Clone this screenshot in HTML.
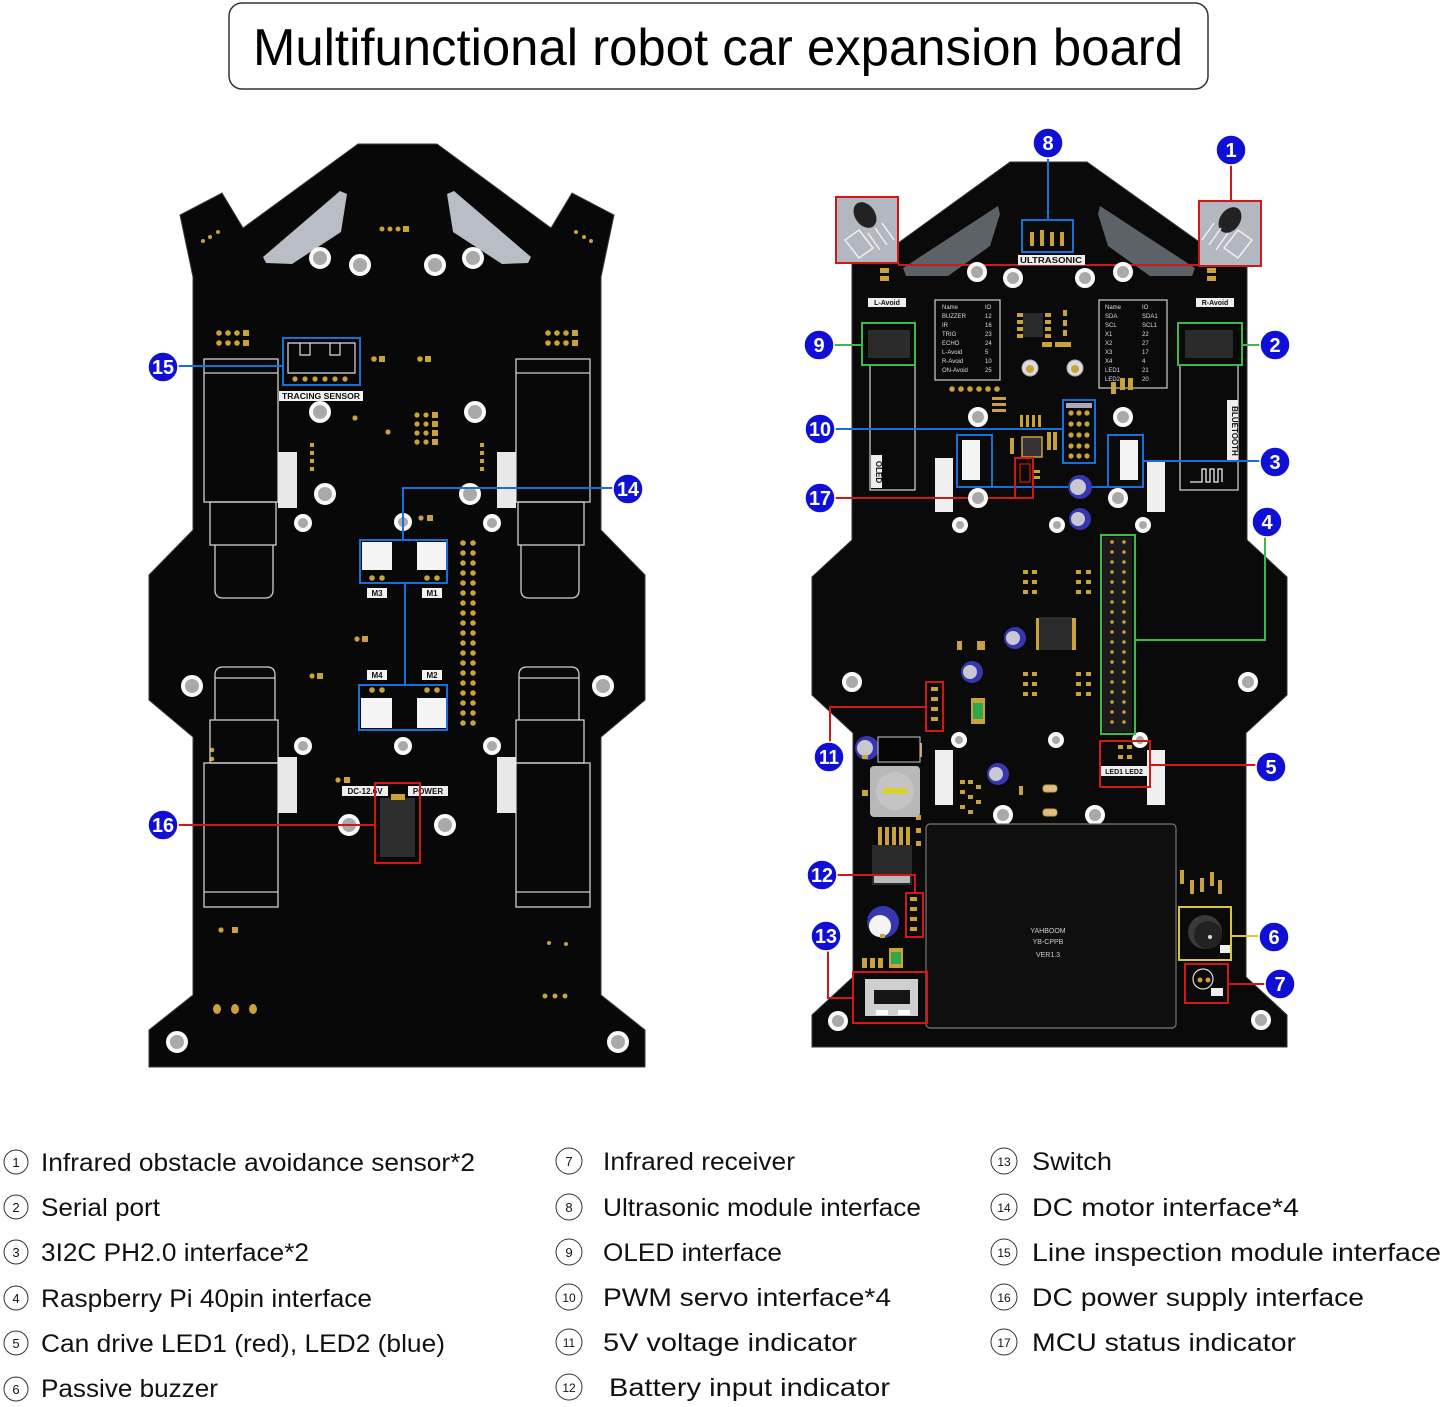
<!DOCTYPE html>
<html><head><meta charset="utf-8"><style>
html,body{margin:0;padding:0;background:#fff;}
svg{display:block;}
</style></head><body>
<svg width="1444" height="1407" viewBox="0 0 1444 1407" xmlns="http://www.w3.org/2000/svg" font-family="Liberation Sans, Arial, sans-serif">
<rect width="1444" height="1407" fill="#fff"/>
<!-- Title -->
<rect x="229" y="3" width="979" height="86" rx="13" fill="#fff" stroke="#333" stroke-width="1.5"/>
<text x="253" y="65" font-size="52" fill="#000" textLength="930" lengthAdjust="spacingAndGlyphs">Multifunctional robot car expansion board</text>

<!-- ================= LEFT BOARD ================= -->
<polygon fill="#080808" stroke="#3a3a3a" stroke-width="1" points="358,144 437,144 551,228 572,193 614,215 601,277 601,530 645,575 645,700 601,737 601,995 645,1030 645,1067 149,1067 149,1030 193,995 193,737 149,700 149,575 193,530 193,277 180,215 222,193 243,228"/>
<!-- slats -->
<polygon fill="#b9bdc6" points="263,257 340,191 347,194 341,232 292,264 266,263"/>
<polygon fill="#b9bdc6" points="531,257 454,191 447,194 453,232 502,264 528,263"/>
<!-- top pads -->
<g fill="#c9a23a">
<circle cx="382" cy="229" r="2.5"/><circle cx="390" cy="229" r="2.5"/><circle cx="398" cy="229" r="2.5"/><rect x="403" y="226" width="6" height="6"/>
<circle cx="203" cy="241" r="2"/><circle cx="210" cy="237" r="2"/><circle cx="218" cy="232" r="2"/>
<circle cx="576" cy="232" r="2"/><circle cx="584" cy="237" r="2"/><circle cx="591" cy="241" r="2"/>
<!-- pad groups -->
<circle cx="219" cy="333" r="2.8"/><circle cx="228" cy="333" r="2.8"/><circle cx="237" cy="333" r="2.8"/><rect x="243" y="330" width="6" height="6"/>
<circle cx="219" cy="343" r="2.8"/><circle cx="228" cy="343" r="2.8"/><circle cx="237" cy="343" r="2.8"/><rect x="243" y="340" width="6" height="6"/>
<circle cx="548" cy="333" r="2.8"/><circle cx="557" cy="333" r="2.8"/><circle cx="566" cy="333" r="2.8"/><rect x="572" y="330" width="6" height="6"/>
<circle cx="548" cy="343" r="2.8"/><circle cx="557" cy="343" r="2.8"/><circle cx="566" cy="343" r="2.8"/><rect x="572" y="340" width="6" height="6"/>
<circle cx="374" cy="359" r="2.8"/><rect x="379" y="356" width="6" height="6"/>
<circle cx="420" cy="359" r="2.8"/><rect x="425" y="356" width="6" height="6"/>
<circle cx="355" cy="418" r="2.6"/><circle cx="388" cy="432" r="2.6"/>
<circle cx="417" cy="415" r="2.6"/><circle cx="426" cy="415" r="2.6"/><rect x="432" y="412" width="6" height="6"/>
<circle cx="417" cy="424" r="2.6"/><circle cx="426" cy="424" r="2.6"/><rect x="432" y="421" width="6" height="6"/>
<circle cx="417" cy="433" r="2.6"/><circle cx="426" cy="433" r="2.6"/><rect x="432" y="430" width="6" height="6"/>
<circle cx="417" cy="442" r="2.6"/><circle cx="426" cy="442" r="2.6"/><rect x="432" y="439" width="6" height="6"/>
<rect x="310" y="443" width="4" height="4"/><rect x="310" y="451" width="4" height="4"/><rect x="310" y="459" width="4" height="4"/><rect x="310" y="467" width="4" height="4"/>
<rect x="480" y="443" width="4" height="4"/><rect x="480" y="451" width="4" height="4"/><rect x="480" y="459" width="4" height="4"/><rect x="480" y="467" width="4" height="4"/>
<circle cx="421" cy="518" r="2.6"/><rect x="427" y="515" width="6" height="6"/>
<circle cx="357" cy="639" r="2.6"/><rect x="362" y="636" width="6" height="6"/>
<circle cx="312" cy="676" r="2.6"/><rect x="317" y="673" width="6" height="6"/>
<circle cx="212" cy="750" r="2.3"/><circle cx="212" cy="759" r="2.3"/>
<circle cx="338" cy="780" r="2.6"/><rect x="344" y="777" width="6" height="6"/>
<circle cx="221" cy="930" r="2.6"/><rect x="232" y="927" width="6" height="6"/>
<circle cx="549" cy="943" r="2"/><circle cx="566" cy="944" r="2"/>
<circle cx="545" cy="996" r="2.5"/><circle cx="555" cy="996" r="2.5"/><circle cx="565" cy="996" r="2.5"/>
<ellipse cx="217" cy="1009" rx="4" ry="5"/><ellipse cx="235" cy="1009" rx="4" ry="5"/><ellipse cx="253" cy="1009" rx="4" ry="5"/>
</g>
<!-- header pins left board -->
<g fill="#c9a23a">
<circle cx="463" cy="543" r="2.8"/><circle cx="473" cy="543" r="2.8"/><circle cx="463" cy="553" r="2.8"/><circle cx="473" cy="553" r="2.8"/><circle cx="463" cy="563" r="2.8"/><circle cx="473" cy="563" r="2.8"/><circle cx="463" cy="573" r="2.8"/><circle cx="473" cy="573" r="2.8"/><circle cx="463" cy="583" r="2.8"/><circle cx="473" cy="583" r="2.8"/><circle cx="463" cy="593" r="2.8"/><circle cx="473" cy="593" r="2.8"/><circle cx="463" cy="603" r="2.8"/><circle cx="473" cy="603" r="2.8"/><circle cx="463" cy="613" r="2.8"/><circle cx="473" cy="613" r="2.8"/><circle cx="463" cy="623" r="2.8"/><circle cx="473" cy="623" r="2.8"/><circle cx="463" cy="633" r="2.8"/><circle cx="473" cy="633" r="2.8"/><circle cx="463" cy="643" r="2.8"/><circle cx="473" cy="643" r="2.8"/><circle cx="463" cy="653" r="2.8"/><circle cx="473" cy="653" r="2.8"/><circle cx="463" cy="663" r="2.8"/><circle cx="473" cy="663" r="2.8"/><circle cx="463" cy="673" r="2.8"/><circle cx="473" cy="673" r="2.8"/><circle cx="463" cy="683" r="2.8"/><circle cx="473" cy="683" r="2.8"/><circle cx="463" cy="693" r="2.8"/><circle cx="473" cy="693" r="2.8"/><circle cx="463" cy="703" r="2.8"/><circle cx="473" cy="703" r="2.8"/><circle cx="463" cy="713" r="2.8"/><circle cx="473" cy="713" r="2.8"/><circle cx="463" cy="723" r="2.8"/><circle cx="473" cy="723" r="2.8"/>
</g>
<!-- motors outlines -->
<g fill="none" stroke="#cfcfcf" stroke-width="1.3">
<rect x="204" y="359" width="74" height="143"/><line x1="204" y1="373" x2="278" y2="373"/>
<rect x="210" y="502" width="66" height="43"/>
<path d="M215,545 V590 Q215,598 223,598 H265 Q273,598 273,590 V545"/>
<rect x="516" y="359" width="74" height="143"/><line x1="516" y1="373" x2="590" y2="373"/>
<rect x="518" y="502" width="66" height="43"/>
<path d="M521,545 V590 Q521,598 529,598 H571 Q579,598 579,590 V545"/>
<path d="M215,720 V675 Q215,667 223,667 H267 Q275,667 275,675 V720"/><line x1="215" y1="678" x2="275" y2="678"/>
<rect x="210" y="720" width="68" height="43"/>
<rect x="204" y="763" width="74" height="144"/><line x1="204" y1="892" x2="278" y2="892"/>
<path d="M519,720 V675 Q519,667 527,667 H571 Q579,667 579,675 V720"/><line x1="519" y1="678" x2="579" y2="678"/>
<rect x="516" y="720" width="68" height="43"/>
<rect x="516" y="763" width="74" height="144"/><line x1="516" y1="892" x2="590" y2="892"/>
</g>
<g fill="#e8e8e8">
<rect x="278" y="452" width="19" height="56"/><rect x="497" y="452" width="19" height="56"/>
<rect x="278" y="757" width="19" height="56"/><rect x="497" y="757" width="19" height="56"/>
</g>
<!-- holes left -->
<g fill="#a9a9a9" stroke="#fafafa" stroke-width="4">
<circle cx="320" cy="258" r="9"/><circle cx="360" cy="265" r="9"/><circle cx="435" cy="265" r="9"/><circle cx="473" cy="258" r="9"/>
<circle cx="320" cy="412" r="9"/><circle cx="475" cy="412" r="9"/>
<circle cx="325" cy="494" r="9"/><circle cx="470" cy="494" r="9"/>
<circle cx="303" cy="523" r="7"/><circle cx="403" cy="522" r="7"/><circle cx="492" cy="523" r="7"/>
<circle cx="192" cy="686" r="9"/><circle cx="603" cy="686" r="9"/>
<circle cx="303" cy="746" r="7"/><circle cx="403" cy="746" r="7"/><circle cx="492" cy="746" r="7"/>
<circle cx="349" cy="825" r="9"/><circle cx="445" cy="825" r="9"/>
<circle cx="177" cy="1042" r="9"/><circle cx="618" cy="1042" r="9"/>
</g>
<!-- tracing sensor -->
<path d="M288,343 H355 V373 H288 Z M300,343 V355 H310 V343 M330,343 V355 H340 V343" fill="none" stroke="#ddd" stroke-width="1.2"/>
<g fill="#c9a23a"><circle cx="295" cy="379" r="2.6"/><circle cx="305" cy="379" r="2.6"/><circle cx="315" cy="379" r="2.6"/><circle cx="325" cy="379" r="2.6"/><circle cx="335" cy="379" r="2.6"/><circle cx="345" cy="379" r="2.6"/></g>
<rect x="283" y="338" width="77" height="47" fill="none" stroke="#1a6fd6" stroke-width="2"/>
<rect x="279" y="391" width="84" height="10" fill="#f2f2f2"/>
<text x="321" y="399" font-size="8" font-weight="bold" fill="#111" text-anchor="middle" textLength="78" lengthAdjust="spacingAndGlyphs">TRACING SENSOR</text>
<line x1="178" y1="366" x2="283" y2="366" stroke="#1a6fd6" stroke-width="2"/>
<!-- motor connectors -->
<g fill="#f4f4f4"><rect x="362" y="542" width="30" height="28"/><rect x="417" y="542" width="29" height="28"/><rect x="361" y="698" width="31" height="30"/><rect x="417" y="698" width="30" height="30"/></g>
<g fill="#c9a23a"><circle cx="372" cy="578" r="2.8"/><circle cx="382" cy="578" r="2.8"/><circle cx="427" cy="578" r="2.8"/><circle cx="437" cy="578" r="2.8"/><circle cx="372" cy="690" r="2.8"/><circle cx="382" cy="690" r="2.8"/><circle cx="427" cy="690" r="2.8"/><circle cx="437" cy="690" r="2.8"/></g>
<g fill="#f2f2f2"><rect x="367" y="588" width="20" height="10"/><rect x="422" y="588" width="20" height="10"/><rect x="367" y="670" width="20" height="10"/><rect x="422" y="670" width="20" height="10"/></g>
<g font-size="8" font-weight="bold" fill="#111" text-anchor="middle"><text x="377" y="596">M3</text><text x="432" y="596">M1</text><text x="377" y="678">M4</text><text x="432" y="678">M2</text></g>
<g fill="none" stroke="#1a6fd6" stroke-width="2">
<rect x="360" y="540" width="87" height="43"/><rect x="359" y="685" width="88" height="45"/>
<polyline points="613,488 403,488 403,540"/><line x1="405" y1="583" x2="405" y2="685"/>
</g>
<!-- power -->
<rect x="342" y="786" width="46" height="10" fill="#eee"/><rect x="408" y="786" width="40" height="10" fill="#eee"/>
<text x="365" y="794" font-size="8" font-weight="bold" fill="#111" text-anchor="middle">DC-12.6V</text>
<text x="428" y="794" font-size="8" font-weight="bold" fill="#111" text-anchor="middle">POWER</text>
<rect x="380" y="798" width="35" height="59" fill="#2e2e2e"/>
<rect x="391" y="794" width="14" height="6" fill="#c9a23a"/>
<rect x="375" y="783" width="45" height="80" fill="none" stroke="#d01818" stroke-width="2"/>
<line x1="178" y1="825" x2="375" y2="825" stroke="#d01818" stroke-width="2"/>

<!-- ================= RIGHT BOARD ================= -->
<polygon fill="#0a0a0a" stroke="#333" stroke-width="1" points="1010,162 1087,162 1205,246 1247,262 1247,540 1287,577 1287,695 1246,733 1246,977 1287,1015 1287,1047 812,1047 812,1015 853,977 853,733 812,695 812,577 852,540 852,262 894,246"/>
<!-- slats -->
<polygon fill="#5d6168" points="903,268 998,206 1000,214 990,246 948,276 906,276"/>
<polygon fill="#5d6168" points="1195,268 1100,206 1098,214 1108,246 1150,276 1192,276"/>
<!-- IR sensors -->
<rect x="836" y="197" width="62" height="66" fill="#b3b7bf"/>
<rect x="1199" y="201" width="62" height="65" fill="#b3b7bf"/>
<g fill="#222"><ellipse cx="865" cy="215" rx="10" ry="14" transform="rotate(-35 865 215)"/><ellipse cx="1230" cy="220" rx="10" ry="14" transform="rotate(35 1230 220)"/></g>
<g fill="none" stroke="#f0f0f0" stroke-width="1.5">
<path d="M845,240 l14,-10 l14,18 l-14,10 z"/><line x1="868" y1="233" x2="880" y2="250"/><line x1="875" y1="228" x2="887" y2="245"/><line x1="882" y1="223" x2="894" y2="240"/>
<path d="M1252,240 l-14,-10 l-14,18 l14,10 z"/><line x1="1228" y1="233" x2="1216" y2="250"/><line x1="1221" y1="228" x2="1209" y2="245"/><line x1="1214" y1="223" x2="1202" y2="240"/>
</g>
<rect x="836" y="197" width="62" height="66" fill="none" stroke="#d01818" stroke-width="2"/>
<rect x="1199" y="201" width="62" height="65" fill="none" stroke="#d01818" stroke-width="2"/>
<line x1="898" y1="265" x2="1199" y2="265" stroke="#d01818" stroke-width="2"/>
<line x1="1231" y1="165" x2="1231" y2="201" stroke="#d01818" stroke-width="2"/>
<g fill="#c9a23a"><rect x="880" y="268" width="9" height="5"/><rect x="880" y="276" width="9" height="5"/><rect x="1207" y="268" width="9" height="5"/><rect x="1207" y="276" width="9" height="5"/></g>
<rect x="868" y="298" width="38" height="9" fill="#eee"/><rect x="1196" y="298" width="38" height="9" fill="#eee"/>
<text x="887" y="305" font-size="7" font-weight="bold" fill="#111" text-anchor="middle">L-Avoid</text>
<text x="1215" y="305" font-size="7" font-weight="bold" fill="#111" text-anchor="middle">R-Avoid</text>
<!-- ultrasonic -->
<g fill="#c9a23a"><rect x="1030" y="232" width="4" height="14"/><rect x="1040" y="230" width="4" height="16"/><rect x="1050" y="232" width="4" height="14"/><rect x="1060" y="232" width="4" height="14"/></g>
<rect x="1022" y="220" width="51" height="32" fill="none" stroke="#1a6fd6" stroke-width="2"/>
<rect x="1018" y="255" width="67" height="10" fill="#eee"/>
<text x="1051" y="263" font-size="8" font-weight="bold" fill="#111" text-anchor="middle" textLength="62" lengthAdjust="spacingAndGlyphs">ULTRASONIC</text>
<line x1="1048" y1="158" x2="1048" y2="220" stroke="#1a6fd6" stroke-width="2"/>
<!-- tables -->
<g fill="none" stroke="#cfcfcf" stroke-width="1.2"><rect x="935" y="300" width="65" height="80"/><rect x="1099" y="300" width="68" height="88"/></g>
<g font-size="6" fill="#ddd">
<text x="942" y="309">Name</text><text x="985" y="309">IO</text>
<text x="942" y="318">BUZZER</text><text x="985" y="318">12</text>
<text x="942" y="327">IR</text><text x="985" y="327">16</text>
<text x="942" y="336">TRIG</text><text x="985" y="336">23</text>
<text x="942" y="345">ECHO</text><text x="985" y="345">24</text>
<text x="942" y="354">L-Avoid</text><text x="985" y="354">5</text>
<text x="942" y="363">R-Avoid</text><text x="985" y="363">10</text>
<text x="942" y="372">ON-Avoid</text><text x="985" y="372">25</text>
<text x="1105" y="309">Name</text><text x="1142" y="309">IO</text>
<text x="1105" y="318">SDA</text><text x="1142" y="318">SDA1</text>
<text x="1105" y="327">SCL</text><text x="1142" y="327">SCL1</text>
<text x="1105" y="336">X1</text><text x="1142" y="336">22</text>
<text x="1105" y="345">X2</text><text x="1142" y="345">27</text>
<text x="1105" y="354">X3</text><text x="1142" y="354">17</text>
<text x="1105" y="363">X4</text><text x="1142" y="363">4</text>
<text x="1105" y="372">LED1</text><text x="1142" y="372">21</text>
<text x="1105" y="381">LED2</text><text x="1142" y="381">20</text>
</g>
<!-- center smd -->
<g fill="#c9a23a">
<rect x="1017" y="313" width="6" height="4"/><rect x="1017" y="320" width="6" height="4"/><rect x="1017" y="327" width="6" height="4"/><rect x="1017" y="334" width="6" height="4"/>
<rect x="1045" y="313" width="6" height="4"/><rect x="1045" y="320" width="6" height="4"/><rect x="1045" y="327" width="6" height="4"/><rect x="1045" y="334" width="6" height="4"/>
<rect x="1063" y="310" width="4" height="6"/><rect x="1063" y="320" width="4" height="6"/><rect x="1063" y="330" width="4" height="6"/>
<rect x="1055" y="342" width="16" height="5"/><rect x="1042" y="342" width="10" height="5"/>
<circle cx="952" cy="389" r="2.8"/><circle cx="961" cy="389" r="2.8"/><circle cx="970" cy="389" r="2.8"/><circle cx="979" cy="389" r="2.8"/><circle cx="988" cy="389" r="2.8"/><circle cx="997" cy="389" r="2.8"/>
<rect x="992" y="397" width="14" height="3"/><rect x="992" y="403" width="14" height="3"/><rect x="992" y="409" width="14" height="3"/>
<rect x="1020" y="415" width="3" height="12"/><rect x="1026" y="415" width="3" height="12"/><rect x="1032" y="415" width="3" height="12"/><rect x="1038" y="415" width="3" height="12"/>
<rect x="1111" y="382" width="5" height="12"/><rect x="1120" y="378" width="5" height="12"/><rect x="1128" y="378" width="5" height="12"/>
</g>
<rect x="1023" y="313" width="20" height="24" fill="#2a2a2a"/>
<g fill="#ddd" stroke="#aaa" stroke-width="1"><circle cx="1030" cy="368" r="8"/><circle cx="1075" cy="368" r="8"/></g>
<g fill="#c9a23a"><circle cx="1030" cy="369" r="4"/><circle cx="1075" cy="369" r="4"/></g>
<!-- OLED / Bluetooth -->
<rect x="868" y="330" width="42" height="28" fill="#2b2b2b"/>
<rect x="1185" y="330" width="48" height="28" fill="#2b2b2b"/>
<g fill="none" stroke="#d8d8d8" stroke-width="1.2"><rect x="870" y="365" width="45" height="125"/><rect x="1180" y="365" width="58" height="125"/></g>
<rect x="871" y="455" width="11" height="33" fill="#eee"/>
<text x="876" y="472" font-size="8" font-weight="bold" fill="#111" text-anchor="middle" transform="rotate(90 876 472)">OLED</text>
<rect x="1227" y="400" width="11" height="62" fill="#eee"/>
<text x="1232" y="431" font-size="8" font-weight="bold" fill="#111" text-anchor="middle" transform="rotate(90 1232 431)">BLUETOOTH</text>
<path d="M1190,482 H1202 V469 H1206 V482 H1210 V469 H1214 V482 H1218 V469 H1222 V482" fill="none" stroke="#eee" stroke-width="1.3"/>
<g fill="none" stroke="#3db84a" stroke-width="2"><rect x="862" y="323" width="53" height="42"/><rect x="1178" y="323" width="64" height="42"/><line x1="834" y1="345" x2="862" y2="345"/><line x1="1242" y1="345" x2="1260" y2="345"/></g>
<!-- white strips -->
<g fill="#efefef"><rect x="935" y="458" width="18" height="54"/><rect x="1147" y="460" width="18" height="52"/><rect x="935" y="750" width="18" height="55"/><rect x="1147" y="750" width="18" height="55"/></g>
<!-- servo header -->
<g fill="#c9a23a">
<circle cx="1071" cy="413" r="2.6"/><circle cx="1079" cy="413" r="2.6"/><circle cx="1087" cy="413" r="2.6"/>
<circle cx="1071" cy="424" r="2.6"/><circle cx="1079" cy="424" r="2.6"/><circle cx="1087" cy="424" r="2.6"/>
<circle cx="1071" cy="435" r="2.6"/><circle cx="1079" cy="435" r="2.6"/><circle cx="1087" cy="435" r="2.6"/>
<circle cx="1071" cy="446" r="2.6"/><circle cx="1079" cy="446" r="2.6"/><circle cx="1087" cy="446" r="2.6"/>
<circle cx="1071" cy="456" r="2.6"/><circle cx="1079" cy="456" r="2.6"/><circle cx="1087" cy="456" r="2.6"/>
</g>
<rect x="1066" y="403" width="26" height="5" fill="#aab"/>
<rect x="1063" y="400" width="32" height="63" fill="none" stroke="#1a6fd6" stroke-width="2"/>
<line x1="835" y1="429" x2="1063" y2="429" stroke="#1a6fd6" stroke-width="2"/>
<!-- I2C connectors -->
<rect x="962" y="440" width="18" height="40" fill="#f4f4f4"/><rect x="1120" y="440" width="18" height="40" fill="#f4f4f4"/>
<g fill="none" stroke="#1a6fd6" stroke-width="2"><rect x="957" y="435" width="35" height="52"/><rect x="1108" y="435" width="35" height="52"/><line x1="992" y1="487" x2="1108" y2="487"/><line x1="1143" y1="461" x2="1260" y2="461"/></g>
<!-- MCU -->
<rect x="1022" y="437" width="20" height="20" fill="#333" stroke="#c9a23a" stroke-width="1.5"/>
<g fill="#c9a23a"><rect x="1010" y="438" width="4" height="16"/><rect x="1047" y="432" width="4" height="18"/><rect x="1053" y="432" width="4" height="18"/><rect x="1034" y="470" width="6" height="3"/><rect x="1034" y="476" width="6" height="3"/></g>
<g fill="none" stroke="#d01818" stroke-width="2"><rect x="1015" y="458" width="18" height="40"/><polyline points="835,498 1033,498"/><rect x="1020" y="464" width="10" height="18" stroke-width="1.2"/></g>
<!-- capacitors -->
<g fill="#3636b0"><circle cx="1080" cy="487" r="12"/><circle cx="1080" cy="519" r="11"/><circle cx="1015" cy="638" r="11"/><circle cx="972" cy="672" r="11"/><circle cx="998" cy="774" r="11"/><circle cx="867" cy="748" r="12"/><circle cx="883" cy="922" r="16"/></g>
<g fill="#c8c8d0"><circle cx="1078" cy="487" r="8"/><circle cx="1078" cy="519" r="7"/><circle cx="1013" cy="638" r="7"/><circle cx="970" cy="672" r="7"/><circle cx="996" cy="774" r="7"/><circle cx="865" cy="748" r="8"/><circle cx="880" cy="926" r="11" fill="#f4f4f4"/></g>
<!-- holes right -->
<g fill="#a9a9a9" stroke="#fafafa" stroke-width="4">
<circle cx="977" cy="272" r="8"/><circle cx="1013" cy="278" r="8"/><circle cx="1085" cy="278" r="8"/><circle cx="1123" cy="272" r="8"/>
<circle cx="978" cy="417" r="8"/><circle cx="1123" cy="417" r="8"/>
<circle cx="978" cy="498" r="8"/><circle cx="1118" cy="498" r="8"/>
<circle cx="960" cy="525" r="6"/><circle cx="1057" cy="525" r="6"/><circle cx="1143" cy="525" r="6"/>
<circle cx="852" cy="682" r="8"/><circle cx="1248" cy="682" r="8"/>
<circle cx="959" cy="740" r="6"/><circle cx="1056" cy="740" r="6"/><circle cx="1140" cy="740" r="6"/>
<circle cx="1003" cy="815" r="8"/><circle cx="1095" cy="815" r="8"/>
<circle cx="838" cy="1021" r="8"/><circle cx="1261" cy="1020" r="8"/>
</g>
<!-- Pi header -->
<rect x="1103" y="537" width="29" height="195" fill="#1c1c1c"/>
<g fill="#c9a23a">
<circle cx="1112" cy="542" r="1.8"/><circle cx="1124" cy="542" r="1.8"/><circle cx="1112" cy="552" r="1.8"/><circle cx="1124" cy="552" r="1.8"/><circle cx="1112" cy="562" r="1.8"/><circle cx="1124" cy="562" r="1.8"/><circle cx="1112" cy="572" r="1.8"/><circle cx="1124" cy="572" r="1.8"/><circle cx="1112" cy="582" r="1.8"/><circle cx="1124" cy="582" r="1.8"/><circle cx="1112" cy="592" r="1.8"/><circle cx="1124" cy="592" r="1.8"/><circle cx="1112" cy="602" r="1.8"/><circle cx="1124" cy="602" r="1.8"/><circle cx="1112" cy="612" r="1.8"/><circle cx="1124" cy="612" r="1.8"/><circle cx="1112" cy="622" r="1.8"/><circle cx="1124" cy="622" r="1.8"/><circle cx="1112" cy="632" r="1.8"/><circle cx="1124" cy="632" r="1.8"/><circle cx="1112" cy="642" r="1.8"/><circle cx="1124" cy="642" r="1.8"/><circle cx="1112" cy="652" r="1.8"/><circle cx="1124" cy="652" r="1.8"/><circle cx="1112" cy="662" r="1.8"/><circle cx="1124" cy="662" r="1.8"/><circle cx="1112" cy="672" r="1.8"/><circle cx="1124" cy="672" r="1.8"/><circle cx="1112" cy="682" r="1.8"/><circle cx="1124" cy="682" r="1.8"/><circle cx="1112" cy="692" r="1.8"/><circle cx="1124" cy="692" r="1.8"/><circle cx="1112" cy="702" r="1.8"/><circle cx="1124" cy="702" r="1.8"/><circle cx="1112" cy="712" r="1.8"/><circle cx="1124" cy="712" r="1.8"/><circle cx="1112" cy="722" r="1.8"/><circle cx="1124" cy="722" r="1.8"/>
</g>
<g fill="none" stroke="#3db84a" stroke-width="2"><rect x="1101" y="535" width="34" height="199"/><polyline points="1135,640 1265,640 1265,537"/></g>
<!-- misc smd right board -->
<g fill="#c9a23a">
<rect x="1023" y="570" width="5" height="4"/><rect x="1032" y="570" width="5" height="4"/><rect x="1023" y="580" width="5" height="4"/><rect x="1032" y="580" width="5" height="4"/><rect x="1023" y="590" width="5" height="4"/><rect x="1032" y="590" width="5" height="4"/>
<rect x="1076" y="570" width="5" height="4"/><rect x="1086" y="570" width="5" height="4"/><rect x="1076" y="580" width="5" height="4"/><rect x="1086" y="580" width="5" height="4"/><rect x="1076" y="590" width="5" height="4"/><rect x="1086" y="590" width="5" height="4"/>
<rect x="1023" y="672" width="5" height="4"/><rect x="1032" y="672" width="5" height="4"/><rect x="1023" y="682" width="5" height="4"/><rect x="1032" y="682" width="5" height="4"/><rect x="1023" y="692" width="5" height="4"/><rect x="1032" y="692" width="5" height="4"/>
<rect x="1076" y="672" width="5" height="4"/><rect x="1086" y="672" width="5" height="4"/><rect x="1076" y="682" width="5" height="4"/><rect x="1086" y="682" width="5" height="4"/><rect x="1076" y="692" width="5" height="4"/><rect x="1086" y="692" width="5" height="4"/>
<rect x="957" y="641" width="5" height="9"/><rect x="977" y="641" width="8" height="9"/>
<rect x="1036" y="618" width="4" height="32"/><rect x="1072" y="618" width="4" height="32"/>
<rect x="960" y="780" width="5" height="4"/><rect x="968" y="780" width="5" height="4"/><rect x="976" y="785" width="5" height="4"/><rect x="960" y="790" width="5" height="4"/><rect x="968" y="795" width="5" height="4"/><rect x="976" y="800" width="5" height="4"/><rect x="960" y="805" width="5" height="4"/><rect x="968" y="810" width="5" height="4"/>
<rect x="1019" y="786" width="4" height="9"/>
<rect x="878" y="827" width="4" height="18"/><rect x="885" y="827" width="4" height="18"/><rect x="892" y="827" width="4" height="18"/><rect x="899" y="827" width="4" height="18"/><rect x="906" y="827" width="4" height="18"/>
<rect x="916" y="815" width="5" height="5"/><rect x="916" y="828" width="5" height="5"/><rect x="916" y="841" width="5" height="5"/>
<rect x="862" y="755" width="6" height="4"/><rect x="862" y="790" width="6" height="6"/><rect x="918" y="743" width="4" height="14"/>
<rect x="880" y="934" width="5" height="4"/><rect x="862" y="958" width="5" height="10"/><rect x="870" y="958" width="5" height="10"/><rect x="878" y="958" width="5" height="10"/>
<rect x="1180" y="870" width="4" height="14"/><rect x="1190" y="880" width="4" height="14"/><rect x="1200" y="878" width="4" height="14"/><rect x="1210" y="872" width="4" height="14"/><rect x="1218" y="880" width="4" height="14"/>
</g>
<rect x="1039" y="617" width="33" height="33" fill="#2c2c2c"/>
<g fill="#d9c08a" stroke="#c9a23a"><rect x="1043" y="785" width="14" height="7" rx="3"/><rect x="1043" y="809" width="14" height="7" rx="3"/></g>
<rect x="971" y="698" width="14" height="26" fill="#c9a23a"/><rect x="973" y="703" width="10" height="16" fill="#2ea84a"/>
<rect x="889" y="948" width="14" height="20" fill="#c9a23a"/><rect x="891" y="952" width="10" height="12" fill="#2ea84a"/>
<!-- inductor & box -->
<rect x="878" y="737" width="42" height="25" fill="#050505" stroke="#ccc" stroke-width="1"/>
<rect x="870" y="766" width="50" height="51" rx="4" fill="#b8b8b8"/>
<circle cx="895" cy="791" r="19" fill="#c4c4c4"/>
<rect x="883" y="788" width="24" height="6" fill="#d8d030"/>
<rect x="872" y="845" width="40" height="40" fill="#2a2a2a"/>
<rect x="874" y="876" width="36" height="7" fill="#bbb"/>
<!-- battery holder -->
<rect x="926" y="824" width="250" height="204" rx="4" fill="#0f0f0f" stroke="#777" stroke-width="1.2"/>
<g font-size="7" fill="#cfcfcf" text-anchor="middle"><text x="1048" y="933">YAHBOOM</text><text x="1048" y="944">YB-CPPB</text><text x="1048" y="957">VER1.3</text></g>
<!-- buzzer -->
<circle cx="1205" cy="932" r="17" fill="#3a3a3a"/><circle cx="1208" cy="935" r="14" fill="#222"/><circle cx="1210" cy="937" r="2" fill="#ddd"/>
<rect x="1220" y="945" width="12" height="8" fill="#eee"/>
<rect x="1179" y="907" width="52" height="53" fill="none" stroke="#d8c53c" stroke-width="2"/>
<line x1="1231" y1="936" x2="1259" y2="936" stroke="#d8c53c" stroke-width="2"/>
<!-- IR receiver -->
<circle cx="1203" cy="979" r="10" fill="none" stroke="#ddd" stroke-width="1.2"/>
<circle cx="1200" cy="980" r="2.5" fill="#c9a23a"/><circle cx="1208" cy="980" r="2.5" fill="#c9a23a"/>
<rect x="1211" y="988" width="12" height="8" fill="#eee"/>
<rect x="1185" y="964" width="43" height="39" fill="none" stroke="#d01818" stroke-width="2"/>
<line x1="1228" y1="984" x2="1265" y2="984" stroke="#d01818" stroke-width="2"/>
<!-- switch -->
<rect x="865" y="979" width="53" height="37" fill="#cfcfcf"/>
<rect x="874" y="990" width="36" height="14" fill="#151515"/>
<rect x="876" y="1010" width="12" height="5" fill="#fff"/><rect x="898" y="1010" width="12" height="5" fill="#fff"/>
<!-- red boxes / lines for 5,11,12,13 -->
<g fill="#c9a23a"><rect x="931" y="687" width="7" height="4"/><rect x="931" y="697" width="7" height="4"/><rect x="931" y="707" width="7" height="4"/><rect x="931" y="717" width="7" height="4"/>
<rect x="910" y="897" width="7" height="4"/><rect x="910" y="907" width="7" height="4"/><rect x="910" y="917" width="7" height="4"/><rect x="910" y="927" width="7" height="4"/>
<rect x="1118" y="745" width="5" height="4"/><rect x="1127" y="745" width="5" height="4"/><rect x="1118" y="755" width="5" height="4"/><rect x="1127" y="755" width="5" height="4"/></g>
<rect x="1101" y="766" width="46" height="10" fill="#eee"/>
<text x="1124" y="774" font-size="7" font-weight="bold" fill="#111" text-anchor="middle">LED1 LED2</text>
<g fill="none" stroke="#d01818" stroke-width="2">
<rect x="1100" y="741" width="50" height="46"/><line x1="1150" y1="765" x2="1256" y2="765"/>
<rect x="926" y="682" width="17" height="49"/><polyline points="926,707 830,707 830,742"/>
<rect x="906" y="893" width="17" height="44"/><polyline points="837,875 915,875 915,893"/>
<rect x="853" y="972" width="74" height="51"/><polyline points="828,951 828,998 853,998"/>
</g>

<!-- markers -->
<g font-size="20" font-weight="bold" fill="#fff" text-anchor="middle">
<g><circle cx="1231" cy="150" r="15" fill="#0f0fd6" stroke="#fff" stroke-width="1.5"/><text x="1231" y="157">1</text></g>
<g><circle cx="1275" cy="345" r="15" fill="#0f0fd6" stroke="#fff" stroke-width="1.5"/><text x="1275" y="352">2</text></g>
<g><circle cx="1275" cy="462" r="15" fill="#0f0fd6" stroke="#fff" stroke-width="1.5"/><text x="1275" y="469">3</text></g>
<g><circle cx="1267" cy="522" r="15" fill="#0f0fd6" stroke="#fff" stroke-width="1.5"/><text x="1267" y="529">4</text></g>
<g><circle cx="1271" cy="767" r="15" fill="#0f0fd6" stroke="#fff" stroke-width="1.5"/><text x="1271" y="774">5</text></g>
<g><circle cx="1274" cy="937" r="15" fill="#0f0fd6" stroke="#fff" stroke-width="1.5"/><text x="1274" y="944">6</text></g>
<g><circle cx="1280" cy="984" r="15" fill="#0f0fd6" stroke="#fff" stroke-width="1.5"/><text x="1280" y="991">7</text></g>
<g><circle cx="1048" cy="143" r="15" fill="#0f0fd6" stroke="#fff" stroke-width="1.5"/><text x="1048" y="150">8</text></g>
<g><circle cx="819" cy="345" r="15" fill="#0f0fd6" stroke="#fff" stroke-width="1.5"/><text x="819" y="352">9</text></g>
<g><circle cx="820" cy="429" r="15" fill="#0f0fd6" stroke="#fff" stroke-width="1.5"/><text x="820" y="436" textLength="22" lengthAdjust="spacingAndGlyphs">10</text></g>
<g><circle cx="829" cy="757" r="15" fill="#0f0fd6" stroke="#fff" stroke-width="1.5"/><text x="829" y="764" textLength="20" lengthAdjust="spacingAndGlyphs">11</text></g>
<g><circle cx="822" cy="875" r="15" fill="#0f0fd6" stroke="#fff" stroke-width="1.5"/><text x="822" y="882" textLength="22" lengthAdjust="spacingAndGlyphs">12</text></g>
<g><circle cx="826" cy="936" r="15" fill="#0f0fd6" stroke="#fff" stroke-width="1.5"/><text x="826" y="943" textLength="22" lengthAdjust="spacingAndGlyphs">13</text></g>
<g><circle cx="628" cy="489" r="15" fill="#0f0fd6" stroke="#fff" stroke-width="1.5"/><text x="628" y="496" textLength="22" lengthAdjust="spacingAndGlyphs">14</text></g>
<g><circle cx="163" cy="367" r="15" fill="#0f0fd6" stroke="#fff" stroke-width="1.5"/><text x="163" y="374" textLength="22" lengthAdjust="spacingAndGlyphs">15</text></g>
<g><circle cx="163" cy="825" r="15" fill="#0f0fd6" stroke="#fff" stroke-width="1.5"/><text x="163" y="832" textLength="22" lengthAdjust="spacingAndGlyphs">16</text></g>
<g><circle cx="820" cy="498" r="15" fill="#0f0fd6" stroke="#fff" stroke-width="1.5"/><text x="820" y="505" textLength="22" lengthAdjust="spacingAndGlyphs">17</text></g>
</g>

<!-- ================= LEGEND ================= -->
<g fill="none" stroke="#333" stroke-width="1">
<circle cx="16" cy="1162" r="12"/><circle cx="16" cy="1207" r="12"/><circle cx="16" cy="1252" r="12"/><circle cx="16" cy="1298" r="12"/><circle cx="16" cy="1343" r="12"/><circle cx="16" cy="1389" r="12"/>
<circle cx="569" cy="1161" r="13"/><circle cx="569" cy="1207" r="13"/><circle cx="569" cy="1252" r="13"/><circle cx="569" cy="1297" r="13"/><circle cx="569" cy="1342" r="13"/><circle cx="569" cy="1387" r="13"/>
<circle cx="1004" cy="1161" r="13"/><circle cx="1004" cy="1207" r="13"/><circle cx="1004" cy="1252" r="13"/><circle cx="1004" cy="1297" r="13"/><circle cx="1004" cy="1342" r="13"/>
</g>
<g font-size="13" fill="#111" text-anchor="middle">
<text x="16" y="1167">1</text><text x="16" y="1212">2</text><text x="16" y="1257">3</text><text x="16" y="1303">4</text><text x="16" y="1348">5</text><text x="16" y="1394">6</text>
<text x="569" y="1166">7</text><text x="569" y="1212">8</text><text x="569" y="1257">9</text><text x="569" y="1302" font-size="12">10</text><text x="569" y="1347" font-size="12">11</text><text x="569" y="1392" font-size="12">12</text>
<text x="1004" y="1166" font-size="12">13</text><text x="1004" y="1212" font-size="12">14</text><text x="1004" y="1257" font-size="12">15</text><text x="1004" y="1302" font-size="12">16</text><text x="1004" y="1347" font-size="12">17</text>
</g>
<g font-size="25" fill="#111" lengthAdjust="spacingAndGlyphs">
<text x="41" y="1171" textLength="434" lengthAdjust="spacingAndGlyphs">Infrared obstacle avoidance sensor*2</text>
<text x="41" y="1216" textLength="119" lengthAdjust="spacingAndGlyphs">Serial port</text>
<text x="41" y="1261" textLength="268" lengthAdjust="spacingAndGlyphs">3I2C PH2.0 interface*2</text>
<text x="41" y="1307" textLength="331" lengthAdjust="spacingAndGlyphs">Raspberry Pi 40pin interface</text>
<text x="41" y="1352" textLength="404" lengthAdjust="spacingAndGlyphs">Can drive LED1 (red), LED2 (blue)</text>
<text x="41" y="1397" textLength="177" lengthAdjust="spacingAndGlyphs">Passive buzzer</text>
<text x="603" y="1170" textLength="192" lengthAdjust="spacingAndGlyphs">Infrared receiver</text>
<text x="603" y="1216" textLength="318" lengthAdjust="spacingAndGlyphs">Ultrasonic module interface</text>
<text x="603" y="1261" textLength="179" lengthAdjust="spacingAndGlyphs">OLED interface</text>
<text x="603" y="1306" textLength="288" lengthAdjust="spacingAndGlyphs">PWM servo interface*4</text>
<text x="603" y="1351" textLength="254" lengthAdjust="spacingAndGlyphs">5V voltage indicator</text>
<text x="609" y="1396" textLength="281" lengthAdjust="spacingAndGlyphs">Battery input indicator</text>
<text x="1032" y="1170" textLength="80" lengthAdjust="spacingAndGlyphs">Switch</text>
<text x="1032" y="1216" textLength="267" lengthAdjust="spacingAndGlyphs">DC motor interface*4</text>
<text x="1032" y="1261" textLength="409" lengthAdjust="spacingAndGlyphs">Line inspection module interface</text>
<text x="1032" y="1306" textLength="332" lengthAdjust="spacingAndGlyphs">DC power supply interface</text>
<text x="1032" y="1351" textLength="264" lengthAdjust="spacingAndGlyphs">MCU status indicator</text>
</g>
</svg>
</body></html>
